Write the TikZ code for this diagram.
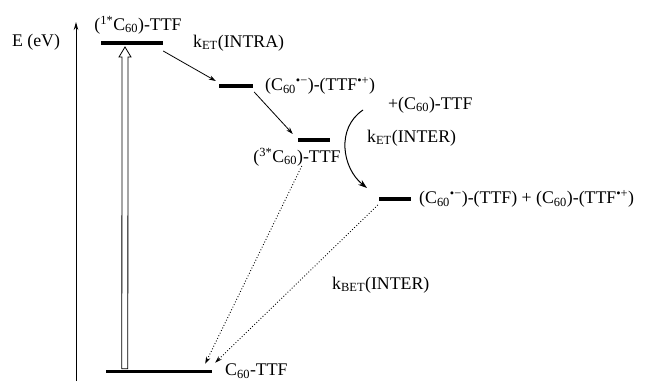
\documentclass[tikz,border=0pt]{standalone}
\usepackage{fontspec}
\setmainfont{Liberation Serif}
\usetikzlibrary{arrows.meta,calc}
\begin{document}
\begin{tikzpicture}[x=1pt,y=-1pt,
  font=\fontsize{17.8}{20}\selectfont,
  levelbox/.style={fill=black, inner sep=0pt, minimum height=3.2pt},
  lbl/.style={inner sep=0pt, anchor=west},
  solidarrow/.style={line width=0.8pt, -{Stealth[length=7pt,width=4.5pt]}},
  dotarrow/.style={line width=0.9pt, dotted, -{Stealth[length=7pt,width=4.5pt]}}]
\useasboundingbox (0,0) rectangle (645,381);
% energy axis
\coordinate (axb) at (76,381);
\coordinate (axt) at (76,22);
\draw[line width=1pt, -{Stealth[length=8pt,width=4.5pt]}] (axb) -- (axt);
\node[inner sep=0pt] (E) at (36,42) {E (eV)};
% levels
\node[levelbox, minimum width=62pt] (L1) at (132,43) {};
\node[levelbox, minimum width=34pt] (L2) at (236,86) {};
\node[levelbox, minimum width=32pt] (L3) at (314,140) {};
\node[levelbox, minimum width=32pt] (L4) at (395,199) {};
\node[levelbox, minimum width=106pt] (G) at (159,371.5) {};
% labels
\node[inner sep=0pt] (t1) at (138,25) {(\textsuperscript{1*}C\textsubscript{60})-TTF};
\node[lbl] (kintra) at (193,43) {k\textsubscript{ET}(INTRA)};
\node[lbl] (t2) at (265,86) {(C\textsubscript{60}\textsuperscript{•−})-(TTF\textsuperscript{•+})};
\node[lbl] (plus) at (388,105) {+(C\textsubscript{60})-TTF};
\node[lbl] (kinter) at (367,138) {k\textsubscript{ET}(INTER)};
\node[inner sep=0pt] (t3) at (297,157) {(\textsuperscript{3*}C\textsubscript{60})-TTF};
\node[lbl] (t4) at (419,199) {(C\textsubscript{60}\textsuperscript{•−})-(TTF) + (C\textsubscript{60})-(TTF\textsuperscript{•+})};
\node[lbl] (kbet) at (332,285) {k\textsubscript{BET}(INTER)};
\node[inner sep=0pt, anchor=south west] (tg) at (225,378.5) {C\textsubscript{60}-TTF};
% hollow excitation arrow
\coordinate (hb) at ($(G.north west)+(19,0)$);
\coordinate (ht) at (125,47);
\draw[line width=0.8pt, fill=white]
  ($(hb)+(-3,-1)$) -- ($(ht)+(-3,10)$) -- ($(ht)+(-6,10)$) -- (ht)
  -- ($(ht)+(6,10)$) -- ($(ht)+(3,10)$) -- ($(hb)+(3,-1)$) -- cycle;
% intramolecular transfers
\draw[solidarrow] ($(L1.east)+(0,8)$) -- ($(L2.west)+(-3,-5)$);
\draw[solidarrow] ($(L2.east)+(1,6)$) -- ($(L3.west)+(-5,-6)$);
% intermolecular transfer
\coordinate (cs) at (363,110);
\coordinate (ce) at (367,188);
\draw[line width=1pt, -{Stealth[length=9pt,width=6pt]}] (cs) .. controls (336,128) and (342,168) .. (ce);
% back electron transfers
\draw[dotarrow] ($(L3.west)+(4,26)$) -- ($(G.north east)+(-7,-6)$);
\draw[dotarrow] ($(L4.west)+(-1,6)$) -- ($(G.north east)+(3,-7)$);
\end{tikzpicture}
\end{document}
